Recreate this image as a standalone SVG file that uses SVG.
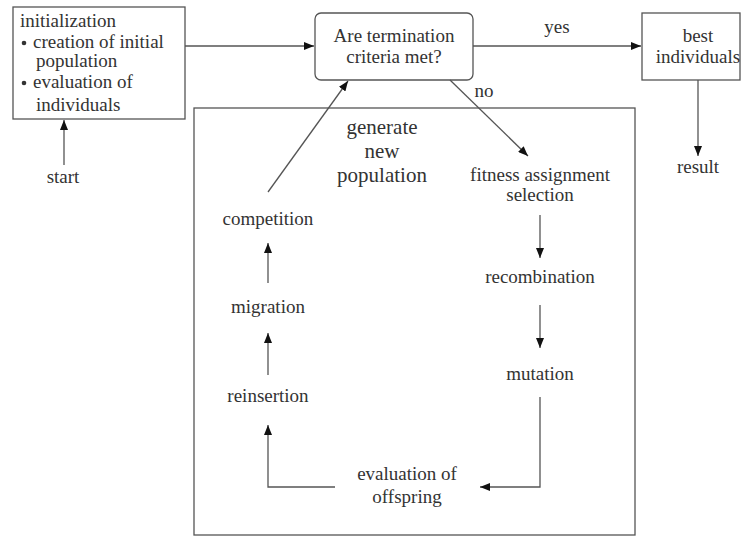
<svg xmlns="http://www.w3.org/2000/svg" width="744" height="538" viewBox="0 0 744 538">
<style>
text{font-family:'Liberation Serif','DejaVu Serif','Noto Serif',serif;font-size:19px;fill:#333}
.c{text-anchor:middle}
.big{font-size:21px}
.box{fill:#fff;stroke:#555;stroke-width:1.3}
.ln{fill:none;stroke:#555;stroke-width:1.3}
.ar{marker-end:url(#ah)}
</style>
<defs>
<marker id="ah" viewBox="0 0 10 8" refX="10" refY="4" markerWidth="10" markerHeight="8" markerUnits="userSpaceOnUse" orient="auto">
<path d="M0,0 L10,4 L0,8 z" fill="#111"/>
</marker>
</defs>
<rect width="744" height="538" fill="#fff"/>
<g id="generate">
<rect class="box" x="194" y="108" width="441" height="427"/>
<text class="c big" x="382" y="134">generate</text>
<text class="c big" x="382" y="158">new</text>
<text class="c big" x="382" y="182">population</text>
</g>
<g id="init">
<rect class="box" x="13" y="7" width="172" height="112"/>
<text x="20" y="27">initialization</text>
<circle cx="24" cy="43" r="2.3" fill="#333"/>
<text x="33" y="48">creation of initial</text>
<text x="36" y="67">population</text>
<circle cx="24" cy="83" r="2.3" fill="#333"/>
<text x="33" y="88">evaluation of</text>
<text x="36" y="111">individuals</text>
</g>
<g id="start"><text class="c" x="63" y="183">start</text></g>
<g id="decision">
<rect class="box" x="315" y="13" width="158" height="67" rx="6"/>
<text class="c" x="394" y="42">Are termination</text>
<text class="c" x="394" y="63">criteria met?</text>
</g>
<g id="best">
<rect class="box" x="642" y="13" width="98" height="67"/>
<text class="c" x="698" y="42">best</text>
<text class="c" x="698" y="63">individuals</text>
</g>
<g id="result"><text class="c" x="698" y="173">result</text></g>
<g id="fitness">
<text class="c" x="540" y="181">fitness assignment</text>
<text class="c" x="540" y="201">selection</text>
</g>
<g id="recombination"><text class="c" x="540" y="283">recombination</text></g>
<g id="mutation"><text class="c" x="540" y="380">mutation</text></g>
<g id="evaluation">
<text class="c" x="407" y="480">evaluation of</text>
<text class="c" x="407" y="503">offspring</text>
</g>
<g id="reinsertion"><text class="c" x="268" y="402">reinsertion</text></g>
<g id="migration"><text class="c" x="268" y="313">migration</text></g>
<g id="competition"><text class="c" x="268" y="225">competition</text></g>
<g id="connectors">
<line class="ln ar" x1="64" y1="165" x2="64" y2="120"/>
<line class="ln ar" x1="185" y1="46" x2="314" y2="46"/>
<line class="ln ar" x1="473" y1="46" x2="641" y2="46"/>
<text class="c" x="557" y="33">yes</text>
<line class="ln ar" x1="698" y1="80" x2="698" y2="156"/>
<line class="ln ar" x1="450" y1="80" x2="528" y2="156"/>
<text class="c" x="484" y="97">no</text>
<line class="ln ar" x1="540" y1="215" x2="540" y2="258"/>
<line class="ln ar" x1="540" y1="305" x2="540" y2="348"/>
<polyline class="ln ar" points="540,397 540,487 480,487"/>
<polyline class="ln ar" points="335,487 268,487 268,425"/>
<line class="ln ar" x1="268" y1="375" x2="268" y2="333"/>
<line class="ln ar" x1="268" y1="283" x2="268" y2="243"/>
<line class="ln ar" x1="268" y1="192" x2="348" y2="81"/>
</g>
</svg>
